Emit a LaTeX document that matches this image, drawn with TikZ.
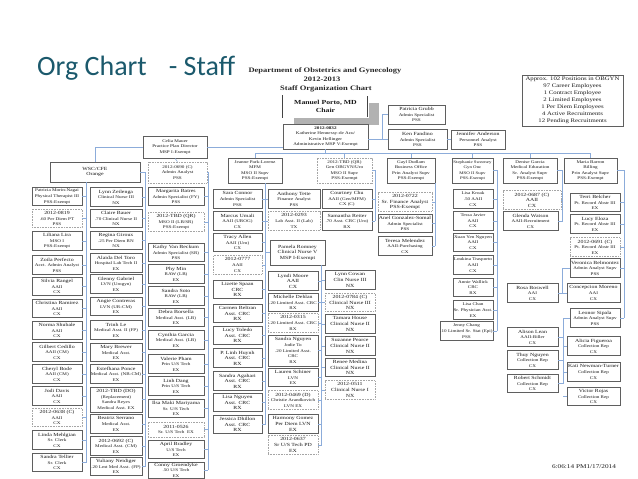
\documentclass[tikz,border=0pt]{standalone}
\usepackage{fontspec}
\setmainfont{Liberation Serif}
\newfontfamily\chartfont[FakeStretch=1.25]{Liberation Serif}
\newfontfamily\slidefont{Carlito}
\usetikzlibrary{shadows}
\definecolor{titleTeal}{RGB}{27,89,108}
\definecolor{boxLine}{RGB}{95,95,95}
\definecolor{vacLine}{RGB}{165,165,165}
\definecolor{linkBlue}{RGB}{140,172,218}
\definecolor{inkGray}{RGB}{25,25,25}
\newcommand{\nm}[1]{{\fontsize{4.7}{5.6}\selectfont #1}}

\begin{document}
\begin{tikzpicture}[x=1pt, y=-1pt,
  person/.style={
    rectangle,
    draw=boxLine,
    fill=white,
    line width=0.55pt,
    align=center,
    inner xsep=0.4pt,
    inner ysep=0.5pt,
    minimum height=18.5pt,
    text=inkGray,
    font=\chartfont\fontsize{4.1}{5.6}\selectfont
  },
  vacant/.style={person, draw=vacLine, dash pattern=on 0.8pt off 0.8pt},
  lead/.style={person, minimum height=25pt},
  colA/.style={minimum width=50pt},
  colB/.style={minimum width=52pt},
  colC/.style={minimum width=56pt},
  colD/.style={minimum width=49pt},
  colE/.style={minimum width=50pt},
  header/.style={font=\chartfont\bfseries\fontsize{6.8}{8}\selectfont, text=black!85, inner sep=0pt},
  link/.style={draw=linkBlue, line width=0.55pt}
]

  \useasboundingbox (0,0) rectangle (638,479);

  % ── Titre ──────────────────────────────────────────────────────
  \node[anchor=base west, inner sep=0pt, text=titleTeal,
        font=\slidefont\fontsize{28}{30}\selectfont] (title) at (37,75) {Org Chart\hspace{22pt}- Staff};
  \node[header] (dept)  at (325,70.5) {Department of Obstetrics and Gynecology};
  \node[header] (years) at (322,79)   {2012-2013};
  \node[header] (chart) at (326,89)   {Staff Organization Chart};

  % ── Direction ──────────────────────────────────────────────────
  \node[person, double, double distance=0.6pt, draw=boxLine!70!black,
        minimum width=85pt, minimum height=22pt,
        drop shadow={shadow xshift=11pt, shadow yshift=-7pt, fill=black!30, opacity=1},
        font=\chartfont\bfseries\fontsize{6.2}{7.4}\selectfont] (chair) at (325.5,106.5) {Manuel Porto, MD\\Chair};
  \node[person, line width=0.8pt, minimum width=85pt, minimum height=25pt] (admin) at (325.5,136.5)
        {\textbf{2012-0832}\\Katherine Hennessy-de Acu/\\Kevin Hellinger\\Administrative MSP V-Exempt};
  \node[person, minimum width=57pt, minimum height=19pt] (grubb)    at (416.5,114.5) {\nm{Patricia Grubb}\\Admin Specialist\\PSS};
  \node[person, minimum width=59pt, minimum height=20pt] (ken)      at (417.5,139.5) {\nm{Ken Fandino}\\Admin Specialist\\PSS};
  \node[person, minimum width=54pt, minimum height=19pt] (jennifer) at (478,139.5)   {\nm{Jennifer Anderson}\\Personnel Analyst\\PSS};
  \node[person, minimum width=101pt, minimum height=51pt,
        font=\chartfont\fontsize{5.4}{7}\selectfont] (count) at (572.5,100.5)
        {Approx. 102 Positions in OBGYN\\97 Career Employees\\1 Contract Employee\\2 Limited Employees\\1 Per Diem Employees\\4 Active Recruitments\\12 Pending Recruitments};
  \node[person, minimum width=64pt, minimum height=22pt] (celia) at (175,147) {Celia Mauer\\Practice Plan Director\\MSP I-Exempt};

  % ── Responsables ───────────────────────────────────────────────
  \node[person, minimum width=90pt, minimum height=20pt] (wsc) at (95,172) {\nm{WSC/CFE}\\\nm{Orange}};
  \node[vacant, minimum width=59pt, minimum height=21pt] (vac0690) at (177.5,172.5) {2012-0690 (C)\\Admin Analyst\\PSS};
  \node[lead,   minimum width=54pt] (jeanne)    at (255,170.5)   {Jeanne Park-Lorenz\\MFM\\MSO II Supv\\PSS-Exempt};
  \node[vacant, minimum width=55pt, minimum height=25pt] (tbdqr) at (344.5,170.5) {2012-TBD (QR)\\Gen OBGYN/Uro\\MSO II Supv\\PSS-Exempt};
  \node[lead,   minimum width=48pt] (gayl)      at (411,170.5)   {Gayl Dudlam\\Business Office\\Prin Analyst Supv\\PSS-Exempt};
  \node[lead,   minimum width=41pt, font=\chartfont\fontsize{3.9}{5.6}\selectfont] (stephanie) at (472.5,170.5) {Stephanie Sweeney\\Gyn Onc\\MSO II Supv\\PSS-Exempt};
  \node[lead,   minimum width=54pt] (denise)    at (530,170.5)   {Denise Garcia\\Medical Education\\Sr. Analyst Supv\\PSS-Exempt};
  \node[lead,   minimum width=53pt] (maria)     at (590.5,170.5) {Maria Barron\\Billing\\Prin Analyst Supv\\PSS-Exempt};

  % ── Colonne A ──────────────────────────────────────────────────
  \node[person, colA] (A1)  at (57,196.5) {Patricia Morin-Nagai\\Physical Therapist III\\PSS-Exempt};
  \node[vacant, colA] (A2)  at (57,218.5) {\nm{2012-0819}\\.60 Per Diem PT\\PSS};
  \node[person, colA] (A3)  at (57,241)   {\nm{Liliana Lira}\\MSO I\\PSS-Exempt};
  \node[person, colA] (A4)  at (57,265)   {\nm{Zoila Perfecto}\\Acct. Admin Analyst\\PSS};
  \node[person, colA] (A5)  at (57,286.5) {\nm{Silvia Rangel}\\AAII\\CX};
  \node[person, colA] (A6)  at (57,308.5) {\nm{Christina Ramirez}\\AAII\\CX};
  \node[person, colA] (A7)  at (57,330.5) {\nm{Norma Shubale}\\AAII\\CX};
  \node[person, colA] (A8)  at (57,352)   {\nm{Gilbert Cedillo}\\AAII (CM)\\CX};
  \node[person, colA] (A9)  at (57,374)   {\nm{Cheryl Bode}\\AAII (CM)\\CX};
  \node[person, colA] (A10) at (57,396)   {\nm{Jodi Davis}\\AAII\\CX};
  \node[vacant, colA] (A11) at (57,417.5) {\nm{2012-0638 (C)}\\AAII\\CX};
  \node[person, colA] (A12) at (57,440)   {\nm{Linda Mehlgian}\\Sr. Clerk\\CX};
  \node[person, colA] (A13) at (57,462.5) {\nm{Sandra Tellier}\\Sr. Clerk\\CX};

  % ── Colonne B ──────────────────────────────────────────────────
  \node[person, colB] (B1)  at (116,197)   {\nm{Lynn Zeilenga}\\Clinical Nurse III\\NX};
  \node[person, colB] (B2)  at (116,218.5) {\nm{Claire Bauer}\\.70 Clinical Nurse II\\NX};
  \node[person, colB] (B3)  at (116,240.5) {\nm{Regina Giroux}\\.25 Per Diem RN\\NX};
  \node[person, colB] (B4)  at (116,263)   {\nm{Alaida Del Toro}\\Hospital Lab Tech II\\EX};
  \node[person, colB] (B5)  at (116,284)   {\nm{Glenny Gabriel}\\LVN (Urogyn)\\EX};
  \node[person, colB] (B6)  at (116,306.5) {\nm{Angie Contreras}\\LVN (UR-CM)\\EX};
  \node[person, colB] (B7)  at (116,330)   {\nm{Trinh Le}\\Medical Asst. II (FP)\\EX};
  \node[person, colB] (B8)  at (116,352.5) {\nm{Mary Brewer}\\Medical Asst.\\EX};
  \node[person, colB] (B9)  at (116,374)   {\nm{Estefhana Ponce}\\Medical Asst. (NB-CM)\\EX};
  \node[lead,   colB] (B10) at (116,399.5) {\nm{2012-TBD (DO)}\\(Replacement)\\Sandra Reyes\\Medical Asst. EX};
  \node[person, colB] (B11) at (116,424)   {\nm{Beatriz Serrano}\\Medical Asst.\\EX};
  \node[person, colB] (B12) at (116,446)   {\nm{2012-0692 (C)}\\Medical Asst. (CM)\\EX};
  \node[person, colB] (B13) at (116,466.5) {\nm{Yuliany Neidiger}\\.20 Lmt Med Asst. (FP)\\EX};

  % ── Colonne C ──────────────────────────────────────────────────
  \node[person, colC] (C1)  at (176,196.5) {\nm{Margarita Batres}\\Admin Specialist (FY)\\PSS};
  \node[vacant, colC] (C2)  at (176,222)   {\nm{2012-TBD (QR)}\\MSO II (LB/SR)\\PSS-Exempt};
  \node[person, colC] (C3)  at (176,252.5) {\nm{Kathy Van Beckum}\\Admin Specialist (SR)\\PSS};
  \node[person, colC] (C4)  at (176,274)   {\nm{Phy Min}\\RAW (LB)\\EX};
  \node[person, colC] (C5)  at (176,296)   {\nm{Sandra Soto}\\RAW (LB)\\EX};
  \node[person, colC] (C6)  at (176,317.5) {\nm{Debra Borsella}\\Medical Asst. (LB)\\EX};
  \node[person, colC] (C7)  at (176,340)   {\nm{Cynthia Garcia}\\Medical Asst. (LB)\\EX};
  \node[person, colC] (C8)  at (176,364)   {\nm{Valerie Pham}\\Prin U/S Tech\\EX};
  \node[person, colC] (C9)  at (176,386)   {\nm{Linh Dang}\\Prin U/S Tech\\EX};
  \node[person, colC] (C10) at (176,408.5) {\nm{Ilsa Maki Mariyama}\\Sr. U/S Tech\\EX};
  \node[vacant, colC, minimum height=15pt] (C11) at (176,429.5) {\nm{2011-0526}\\Sr. U/S Tech\ \ EX};
  \node[person, colC] (C12) at (176,449.5) {\nm{April Bradley}\\U/S Tech\\EX};
  \node[person, colC, minimum height=16pt] (C13) at (176,470) {\nm{Conny Groendyke}\\.50 U/S Tech\\EX};

  % ── Colonne D ──────────────────────────────────────────────────
  \node[person, colD] (D1)  at (237.5,199)   {\nm{Sara Connor}\\Admin Specialist\\PSS};
  \node[person, colD] (D2)  at (237.5,221)   {\nm{Marcus Umali}\\AAII (UROG)\\CX};
  \node[person, colD] (D3)  at (237.5,242.5) {\nm{Tracy Allen}\\AAII (Uro)\\CX};
  \node[vacant, colD] (D4)  at (237.5,265)   {\nm{2012-0777}\\AAII\\CX};
  \node[person, colD] (D5)  at (237.5,289.5) {\nm{Lizette Spaan}\\\nm{CRC}\\\nm{RX}};
  \node[person, colD] (D6)  at (237.5,313.5) {\nm{Carmen Beltran}\\\nm{Asst. CRC}\\\nm{RX}};
  \node[person, colD] (D7)  at (237.5,335.5) {\nm{Lucy Toledo}\\\nm{Asst. CRC}\\\nm{RX}};
  \node[person, colD] (D8)  at (237.5,358)   {\nm{P. Linh Huynh}\\\nm{Asst. CRC}\\\nm{RX}};
  \node[person, colD] (D9)  at (237.5,381)   {\nm{Sandra Agahari}\\\nm{Asst. CRC}\\\nm{RX}};
  \node[person, colD] (D10) at (237.5,402.5) {\nm{Lisa Nguyen}\\\nm{Asst. CRC}\\\nm{RX}};
  \node[person, colD] (D11) at (237.5,424.5) {\nm{Jessica Dhillon}\\\nm{Asst. CRC}\\\nm{RX}};

  % ── Colonne E ──────────────────────────────────────────────────
  \node[person, minimum width=52pt] (E1) at (294,199) {\nm{Anthony Tette}\\Finance Analyst\\PSS};
  \node[vacant, minimum width=52pt] (E2) at (294,221) {\nm{2012-0293}\\Lab Asst. II (Lab)\\TX};
  \node[lead,   minimum width=55pt] (pamela) at (297.5,252.5) {\nm{Pamela Romney}\\\nm{Clinical Nurse V}\\\nm{MSP I-Exempt}};
  \node[person, colE] (E4)  at (293,281)   {\nm{Lyndi Moore}\\\nm{AAII}\\\nm{CX}};
  \node[person, colE] (E5)  at (293,302.5) {\nm{Michelle Dehlan}\\.20 Limited Asst. CRC\\RX};
  \node[vacant, colE] (E6)  at (293,323)   {\nm{2012-0315}\\.20 Limited Asst. CRC\\RX};
  \node[person, colE, minimum height=31pt] (E7) at (293,350.5) {\nm{Sandra Nguyen}\\Jodie To\\.20 Limited Asst.\\CRC\\RX};
  \node[person, colE] (E8)  at (293,377.5) {\nm{Lauren Schiner}\\LVN\\EX};
  \node[vacant, colE] (E9)  at (293,400)   {\nm{2012-0469 (D)}\\Christie Arandkovich\\LVN EX};
  \node[person, colE] (E10) at (293,424)   {\nm{Harmony Gomez}\\\nm{Per Diem LVN}\\\nm{EX}};
  \node[vacant, colE] (E11) at (293,445)   {\nm{2012-0637}\\\nm{Sr U/S Tech PD}\\\nm{EX}};

  % ── Colonne F ──────────────────────────────────────────────────
  \node[person, colE] (F1) at (347,199)   {\nm{Courtney Chu}\\AAII (Gen/MFM)\\CX (C)};
  \node[person, colE] (F2) at (347,221)   {\nm{Samantha Reiter}\\.70 Asst. CRC (Uro)\\RX};
  \node[person, colE] (F3) at (350,280)   {\nm{Lynn Cowan}\\\nm{Clin Nurse III}\\\nm{NX}};
  \node[vacant, colE] (F4) at (350,302.5) {\nm{2012-0784 (C)}\\\nm{Clinical Nurse III}\\\nm{NX}};
  \node[person, colE] (F5) at (350,324)   {\nm{Tamara House}\\\nm{Clinical Nurse II}\\\nm{NX}};
  \node[person, colE] (F6) at (350,346)   {\nm{Suzanne Pearce}\\\nm{Clinical Nurse II}\\\nm{NX}};
  \node[person, colE] (F7) at (350,367.5) {\nm{Renee Medina}\\\nm{Clinical Nurse II}\\\nm{NX}};
  \node[vacant, colE] (F8) at (350,390)   {\nm{2012-0511}\\\nm{Clinical Nurse I}\\\nm{NX}};

  % ── Colonne G ──────────────────────────────────────────────────
  \node[vacant, minimum width=54pt] (G1) at (405,202)   {\nm{2012-0722}\\\nm{Sr. Finance Analyst}\\\nm{PSS-Exempt}};
  \node[person, minimum width=54pt] (G2) at (405,223.5) {\nm{Anel Gonzalez-Somal}\\Admin Specialist\\PSS};
  \node[person, minimum width=54pt] (G3) at (405,246)   {\nm{Teresa Melendez}\\AAII-Purchasing\\CX};

  % ── Colonne H ──────────────────────────────────────────────────
  \node[person, minimum width=40pt] (H1) at (473,199)   {Lisa Kroak\\.50 AAII\\CX};
  \node[person, minimum width=40pt] (H2) at (473,221)   {Tessa Javier\\AAII\\CX};
  \node[person, minimum width=40pt] (H3) at (473,242.5) {Xuan Yen Nguyen\\AAII\\CX};
  \node[person, minimum width=40pt] (H4) at (473,265)   {Loukina Trasporto\\AAII\\CX};
  \node[person, minimum width=40pt] (H5) at (473,287.5) {Annie Wallick\\CRC\\RX};
  \node[person, minimum width=40pt] (H6) at (473,310)   {Lisa Chan\\Sr. Physician Asst.\\EX};
  \node[person, minimum width=53pt] (H7) at (466.5,331) {Jenny Chang\\.10 Limited Sr. Stat (Epi)\\PSS};

  % ── Colonnes I et J ────────────────────────────────────────────
  \node[vacant, minimum width=58pt] (I1) at (532,200)   {\nm{2012-0687 (C)}\\\nm{AAII}\\\nm{CX}};
  \node[person, minimum width=55pt] (I2) at (530.5,221) {\nm{Glenda Watson}\\AAII-Recruitment\\CX};
  \node[person, minimum width=51pt] (I3) at (532.5,293) {\nm{Rosa Boswell}\\AAI\\CX};
  \node[person, minimum width=51pt] (I4) at (532.5,337) {\nm{Alison Lean}\\AAII-Biller\\CX};
  \node[person, minimum width=51pt] (I5) at (532.5,360) {\nm{Thuy Nguyen}\\Collection Rep\\CX};
  \node[person, minimum width=51pt] (I6) at (532.5,383.5) {\nm{Robert Schmidt}\\Collection Rep\\CX};

  \node[person, minimum width=50pt] (J1) at (595,202.5) {\nm{Terri Belcher}\\Pt. Record Abstr III\\EX};
  \node[person, minimum width=50pt] (J2) at (595,224)   {\nm{Lucy Eloza}\\Pt. Record Abstr III\\EX};
  \node[vacant, minimum width=50pt] (J3) at (595,247)   {\nm{2012-0691 (C)}\\Pt. Record Abstr III\\EX};
  \node[person, minimum width=50pt] (J4) at (595,268)   {\nm{Veronica Belmontez}\\Admin Analyst Supv\\PSS};
  \node[person, minimum width=53pt] (J5) at (593.5,293) {\nm{Concepcion Moreno}\\AAI\\CX};
  \node[person, minimum width=50pt] (J6) at (595,318)   {\nm{Leonor Sipala}\\Admin Analyst Supv\\PSS};
  \node[person, minimum width=53pt] (J7) at (593.5,346) {\nm{Alicia Figueroa}\\Collection Rep\\CX};
  \node[person, minimum width=53pt] (J8) at (593.5,372) {\nm{Kati Newman-Turner}\\Collection Rep\\CX};
  \node[person, minimum width=53pt] (J9) at (593.5,396.5) {\nm{Victor Rojas}\\Collection Rep\\CX};

  \node[font=\chartfont\fontsize{5.8}{7}\selectfont, text=inkGray, inner sep=0pt] (stamp) at (584,467) {6:06:14 PM1/17/2014};

  % ── Liaisons du haut ───────────────────────────────────────────
  \coordinate (spine) at (382,0);
  \draw[link] (grubb.west) -- (grubb.west -| spine) -- (ken.west -| spine);
  \draw[link] (ken.west) -- (ken.west -| admin.east);
  \draw[link] (ken.east) -- (jennifer.west);
  \draw[link] (celia.east) -- (celia.east -| admin.west);
  \draw[link] (celia.west) -| (wsc.north);
  \draw[link] (celia.south) -- (vac0690.north);
  \coordinate (bus) at (0,153.5);
  \draw[link] (admin.south) -- (admin.south |- bus);
  \draw[link] (jeanne.north |- bus) -- (maria.north |- bus);
  \foreach \id in {jeanne,tbdqr,gayl,stephanie,denise,maria}
    \draw[link] (\id.north) -- (\id.north |- bus);

  % ── Liaisons des colonnes ──────────────────────────────────────
  \coordinate (trunkA) at (86,0);
  \coordinate (trunkB) at (145.5,0);
  \coordinate (trunkC) at (208,0);
  \coordinate (trunkD) at (265,0);
  \coordinate (trunkP) at (321.5,0);
  \coordinate (trunkF) at (375,0);
  \coordinate (trunkG) at (435,0);
  \coordinate (trunkH) at (497,0);
  \coordinate (trunkI) at (562.5,0);
  \coordinate (trunkJ) at (624,0);
  \coordinate (trunkL) at (563,0);

  \draw[link] (wsc.south -| trunkA) -- (A13.east -| trunkA);
  \foreach \i in {1,...,13} \draw[link] (A\i.east) -- (A\i.east -| trunkA);
  \draw[link] (wsc.east) -| (B13.east -| trunkB);
  \foreach \i in {1,...,13} \draw[link] (B\i.east) -- (B\i.east -| trunkB);
  \draw[link] (vac0690.east) -| (C13.east -| trunkC);
  \foreach \i in {1,...,13} \draw[link] (C\i.east) -- (C\i.east -| trunkC);

  \draw[link] (jeanne.south -| trunkD) -- (D11.east -| trunkD);
  \foreach \i in {1,...,11} \draw[link] (D\i.east) -- (D\i.east -| trunkD);
  \foreach \id in {E1,E2,pamela} \draw[link] (\id.west) -- (\id.west -| trunkD);
  \draw[link] (pamela.south -| trunkP) -- (E11.east -| trunkP);
  \foreach \i in {4,...,11} \draw[link] (E\i.east) -- (E\i.east -| trunkP);
  \foreach \i in {3,...,8} \draw[link] (F\i.west) -- (F\i.west -| trunkP);

  \draw[link] (tbdqr.east) -| (F2.east -| trunkF);
  \foreach \i in {1,2} \draw[link] (F\i.east) -- (F\i.east -| trunkF);
  \draw[link] (gayl.south -| trunkG) -- (G3.east -| trunkG);
  \foreach \i in {1,2,3} \draw[link] (G\i.east) -- (G\i.east -| trunkG);
  \draw[link] (stephanie.east) -| (H7.east -| trunkH);
  \foreach \i in {1,...,7} \draw[link] (H\i.east) -- (H\i.east -| trunkH);

  \draw[link] (denise.east) -| (I2.east -| trunkI);
  \foreach \i in {1,2} \draw[link] (I\i.east) -- (I\i.east -| trunkI);
  \draw[link] (maria.east) -| (J6.east -| trunkJ);
  \foreach \i in {1,2,3,4,6} \draw[link] (J\i.east) -- (J\i.east -| trunkJ);
  \draw[link] (J4.west) -| (I3.east -| trunkI);
  \draw[link] (I3.east) -- (J5.west);
  \draw[link] (J6.west) -| (I6.east -| trunkL);
  \foreach \i in {4,5,6} \draw[link] (I\i.east) -- (I\i.east -| trunkL);
  \foreach \i in {7,8,9} \draw[link] (J\i.west) -- (J\i.west -| trunkL);

\end{tikzpicture}
\end{document}
